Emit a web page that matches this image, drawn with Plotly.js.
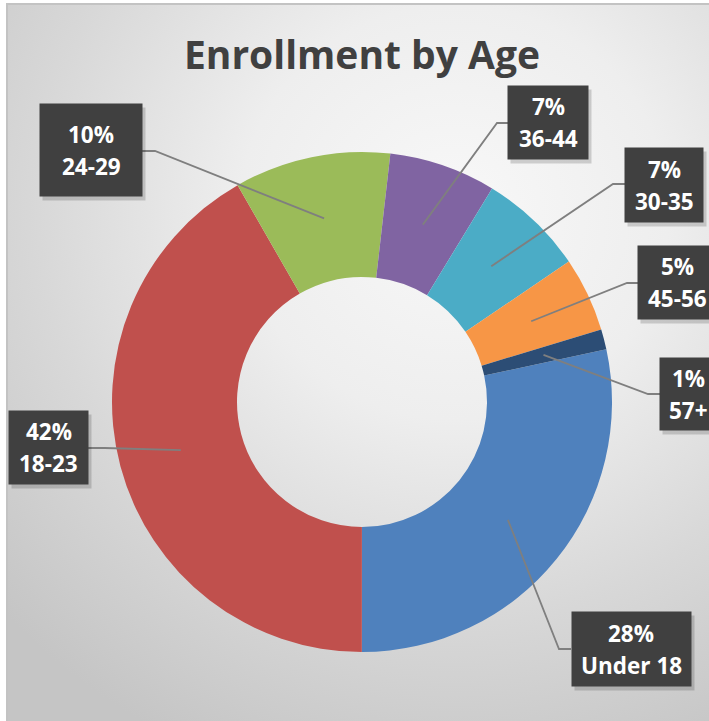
<!DOCTYPE html>
<html><head><meta charset="utf-8">
<script src="https://cdn.plot.ly/plotly-3.0.1.min.js"></script>
<style>
html,body{margin:0;padding:0;background:#fff;width:709px;height:721px;overflow:hidden;}
#bg{position:absolute;left:6px;top:3px;width:720px;height:740px;border-left:2px solid #c3c3c3;border-top:2px solid #c3c3c3;
background:radial-gradient(ellipse 85% 80% at 62% 28%, #f8f8f8 0%, #eeeeee 35%, #d8d8d8 68%, #c5c5c5 100%);}
#chart{position:absolute;left:0;top:0;width:709px;height:721px;}
</style></head><body><div id="bg"></div><div id="chart"></div>
<script>
// ---- data ----
const labels = ['Under 18','18-23','24-29','36-44','30-35','45-56','57+'];
const values = [28.4, 41.7, 10.1, 6.9, 6.8, 4.8, 1.3];
const colors = ['#4f81bd','#c0504d','#9bbb59','#8064a2','#4bacc6','#f79646','#2c4d75'];
const titleText = 'Enrollment by Age';

// ---- layout constants (pixels) ----
const W = 709, H = 721;
const CX = 362, CY = 402, R = 250, HOLE = 0.5;
const ROT = 77.8;
// label boxes: center x, center y, width, height, attach x, elbow x, line y
const boxes = [
  {cx:631, cy:649, w:119, h:74, ax:571, ex:559, ly:649},
  {cx:48.5,cy:447.5,w:79, h:73, ax:88,  ex:105, ly:448},
  {cx:91,  cy:150, w:102, h:92, ax:142, ex:155, ly:151},
  {cx:548, cy:122.5,w:80, h:73, ax:508, ex:497, ly:123},
  {cx:664, cy:185, w:78,  h:74, ax:625, ex:613, ly:184},
  {cx:677, cy:282.5,w:78, h:73, ax:638, ex:627, ly:283},
  {cx:688, cy:394, w:56,  h:72, ax:660, ex:648, ly:394}
];
const LINE_OFF = 16;

const px = x => x / W;
const py = y => 1 - y / H;

const total = values.reduce((a,b)=>a+b,0);
const rMid = R * (1 + HOLE) / 2;
let cum = 0;
const shapes = [];
const annotations = [];
const lblFont = {family:'Open Sans', size:22.5, weight:'bold', color:'#ffffff'};
values.forEach((v,i) => {
  const mid = (ROT + (cum + v/2) / total * 360) * Math.PI / 180;
  cum += v;
  const axp = CX + rMid * Math.sin(mid);
  const ayp = CY - rMid * Math.cos(mid);
  const b = boxes[i];
  shapes.push({type:'path', xref:'paper', yref:'paper',
    path:`M ${px(b.ax)},${py(b.ly)} L ${px(b.ex)},${py(b.ly)} L ${px(axp)},${py(ayp)}`,
    line:{color:'#7f7f7f', width:1.8}});
  const pct = Math.round(v / total * 100);
  annotations.push({xref:'paper', yref:'paper', x:px(b.cx+3), y:py(b.cy+4), xanchor:'center', yanchor:'middle',
    text:' ', showarrow:false, width:b.w, height:b.h, borderpad:0, bgcolor:'rgba(0,0,0,0.16)'});
  annotations.push({xref:'paper', yref:'paper', x:px(b.cx), y:py(b.cy), xanchor:'center', yanchor:'middle',
    text:' ', showarrow:false, width:b.w, height:b.h, borderpad:0, bgcolor:'#404040'});
  annotations.push({xref:'paper', yref:'paper', x:px(b.cx), y:py(b.cy - LINE_OFF), xanchor:'center', yanchor:'middle',
    text: pct + '%', showarrow:false, font:lblFont});
  annotations.push({xref:'paper', yref:'paper', x:px(b.cx), y:py(b.cy + LINE_OFF), xanchor:'center', yanchor:'middle',
    text: labels[i], showarrow:false, font:lblFont});
});

const trace = {
  type:'pie', labels:labels, values:values, hole:HOLE, sort:false, direction:'clockwise',
  rotation:ROT, marker:{colors:colors, line:{width:0}}, textinfo:'none', hoverinfo:'label+percent',
  domain:{x:[px(CX-R), px(CX+R)], y:[py(CY+R), py(CY-R)]}
};

const layout = {
  width:W, height:H, margin:{l:0,r:0,t:0,b:0},
  paper_bgcolor:'rgba(0,0,0,0)', plot_bgcolor:'rgba(0,0,0,0)', showlegend:false,
  title:{text:titleText, font:{family:'Open Sans', size:39, weight:'bold', color:'#404040'},
    x:px(362), xanchor:'center', xref:'paper', y:py(55), yanchor:'middle', yref:'paper'},
  shapes:shapes, annotations:annotations
};
Plotly.newPlot('chart', [trace], layout, {displayModeBar:false, staticPlot:true});
</script></body></html>
